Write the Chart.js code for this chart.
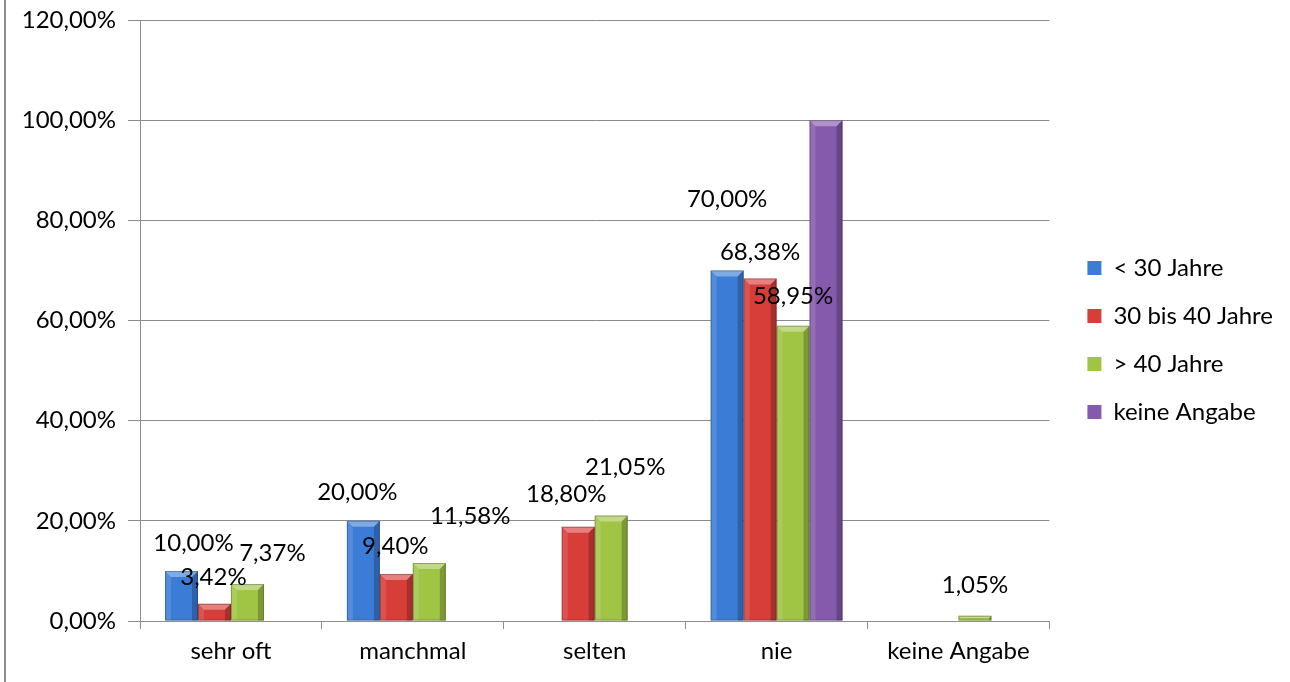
<!DOCTYPE html>
<html>
<head>
<meta charset="utf-8">
<script src="https://cdn.jsdelivr.net/npm/chart.js@4"></script>
<style>
  html, body { margin: 0; padding: 0; background: #fff; }
  #wrap { width: 1290px; height: 682px; position: relative; }
</style>
</head>
<body>
<div id="wrap"><canvas id="chart" width="1290" height="682"></canvas></div>
<script>
const categories = ['sehr oft', 'manchmal', 'selten', 'nie', 'keine Angabe'];
const seriesNames = ['< 30 Jahre', '30 bis 40 Jahre', '> 40 Jahre', 'keine Angabe'];
const under30 = [10.00, 20.00, 0, 70.00, 0];
const from30to40 = [3.42, 9.40, 18.80, 68.38, 0];
const over40 = [7.37, 11.58, 21.05, 58.95, 1.05];
const noAnswer = [0, 0, 0, 100.00, 0];
const yMin = 0, yMax = 120, yStep = 20;

const seriesColors = ['#3b7dd6', '#d73d39', '#a0c545', '#8559ab'];
// label nudges [dx, dy] from bar top centre, like the hand-placed Excel labels
const labelShift = [
  [[12, -28], [-6, -29], [0, -28], [0, -71], [0, -28]],
  [[-1, -27], [-1, -28], [-12, -33], [0, -26], [0, -28]],
  [[25, -31], [41, -47], [14, -48], [0, -29], [0, -30]],
  null
];

const FONT = 'Lato, "Open Sans", sans-serif';
const FS = 24;
const GRID = '#8c8c8c';

const fmt = v => v.toFixed(2).replace('.', ',') + '%';

const frame = {
  id: 'frame',
  beforeDraw(chart) {
    const c = chart.ctx;
    c.save();
    c.fillStyle = '#fff';
    c.fillRect(0, 0, chart.width, chart.height);
    c.strokeStyle = '#8c8c8c';
    c.lineWidth = 2;
    c.beginPath();
    c.moveTo(5, 0);
    c.lineTo(5, chart.height);
    c.stroke();
    c.restore();
  }
};

// nudge the legend block a bit right/up to sit where Excel put it
const legendNudge = {
  id: 'legendNudge',
  afterLayout(chart) {
    const lg = chart.legend;
    lg.left += 14; lg.right += 14;
    lg.top -= 11; lg.bottom -= 11;
  }
};

const bevel = {
  id: 'bevel',
  afterDatasetsDraw(chart) {
    const c = chart.ctx;
    chart.data.datasets.forEach((ds, i) => {
      chart.getDatasetMeta(i).data.forEach(bar => {
        const h = bar.base - bar.y;
        if (h <= 0.5) return;
        const l = bar.x - bar.width / 2, r = bar.x + bar.width / 2;
        const t = bar.y, b = bar.base;
        const s = Math.min(6, h / 2);
        c.save();
        c.fillStyle = 'rgba(255,255,255,0.35)';
        c.beginPath();
        c.moveTo(l, t); c.lineTo(r, t); c.lineTo(r - s, t + s); c.lineTo(l + s, t + s);
        c.closePath(); c.fill();
        c.fillStyle = 'rgba(255,255,255,0.12)';
        c.beginPath();
        c.moveTo(l, t); c.lineTo(l + s, t + s); c.lineTo(l + s, b); c.lineTo(l, b);
        c.closePath(); c.fill();
        c.fillStyle = 'rgba(0,0,0,0.22)';
        c.beginPath();
        c.moveTo(r, t); c.lineTo(r - s, t + s); c.lineTo(r - s, b); c.lineTo(r, b);
        c.closePath(); c.fill();
        c.strokeStyle = 'rgba(0,0,0,0.25)';
        c.lineWidth = 1;
        c.strokeRect(l + 0.5, t + 0.5, r - l - 1, h - 1);
        c.restore();
      });
    });
  }
};

const valueLabels = {
  id: 'valueLabels',
  afterDatasetsDraw(chart) {
    const c = chart.ctx;
    c.save();
    c.font = FS + 'px ' + FONT;
    c.fillStyle = '#000';
    c.textAlign = 'center';
    c.textBaseline = 'middle';
    chart.data.datasets.forEach((ds, i) => {
      if (!labelShift[i]) return;
      chart.getDatasetMeta(i).data.forEach((bar, j) => {
        const v = ds.data[j];
        if (!v) return;
        const [dx, dy] = labelShift[i][j];
        c.fillText(fmt(v), bar.x + dx, bar.y + dy);
      });
    });
    c.restore();
  }
};

const seriesData = [under30, from30to40, over40, noAnswer];

new Chart(document.getElementById('chart'), {
  type: 'bar',
  data: {
    labels: categories,
    datasets: seriesNames.map((name, i) => ({
      label: name,
      data: seriesData[i],
      backgroundColor: seriesColors[i],
      borderWidth: 0,
      categoryPercentage: 0.725,
      barPercentage: 1.0
    }))
  },
  options: {
    responsive: false,
    animation: false,
    events: [],
    layout: { padding: { left: 0, top: 20, right: 21, bottom: 0 } },
    plugins: {
      legend: {
        position: 'right',
        align: 'center',
        labels: {
          font: { family: FONT, size: FS },
          color: '#000',
          boxWidth: 14,
          boxHeight: 14,
          padding: 24
        }
      },
      tooltip: { enabled: false }
    },
    scales: {
      x: {
        grid: { offset: true, drawOnChartArea: false, tickLength: 8, color: GRID },
        border: { color: GRID },
        ticks: { font: { family: FONT, size: FS }, color: '#000', padding: 8 },
        afterFit(scale) { scale.height = 61; }
      },
      y: {
        min: yMin,
        max: yMax,
        grid: { color: GRID, tickLength: 12 },
        border: { color: GRID },
        ticks: {
          stepSize: yStep,
          font: { family: FONT, size: FS },
          color: '#000',
          padding: 12,
          callback: v => fmt(v)
        },
        afterFit(scale) { scale.width = 140; scale.paddingTop = 0; }
      }
    }
  },
  plugins: [frame, legendNudge, bevel, valueLabels]
});
</script>
</body>
</html>
